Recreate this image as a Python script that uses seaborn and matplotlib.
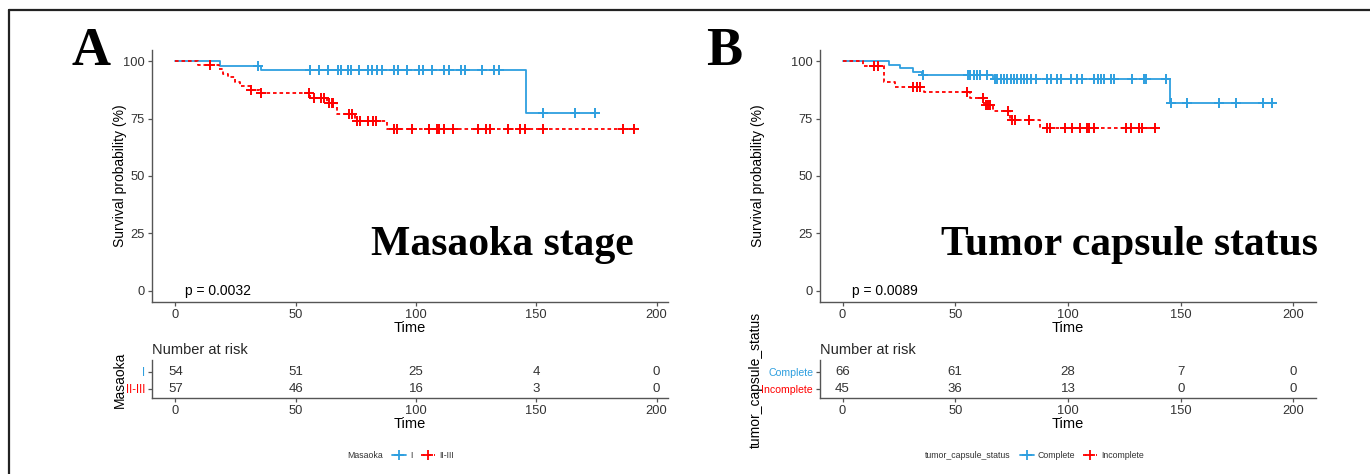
import numpy as np
import pandas as pd
import matplotlib
matplotlib.use("Agg")
import matplotlib.pyplot as plt
import seaborn as sns
from matplotlib.lines import Line2D

# ---- data ----
# Panel A: Masaoka stage
masaoka_I_time = [0, 18.6, 35.7, 145.7, 174.3]
masaoka_I_surv = [100, 98.1, 96.3, 77.3, 77.3]
masaoka_I_cens = [34.3, 55.8, 59.6, 63.6, 67.6, 68.75, 71.8, 72.8, 76.25, 79.9, 81.8,
                  83.75, 85.7, 90.8, 92.4, 96.1, 101.1, 103.1, 106.5, 111.7, 113.6,
                  118.6, 120.4, 127.6, 132.6, 134.6, 152.6, 166.25, 174.3]
masaoka_II_time = [0, 9.3, 18.0, 19.7, 21.8, 24.6, 27.0, 31.5, 35.0, 56.1, 62.8, 67.0,
                   74.6, 87.8, 190.5]
masaoka_II_surv = [100, 98.5, 96.5, 94.7, 93.0, 91.2, 89.5, 87.7, 86.1, 84.1, 81.9, 77.2,
                   74.1, 70.5, 70.5]
masaoka_II_cens = [14.4, 31.5, 35.4, 55.6, 57.5, 60.7, 61.8, 63.75, 64.9, 65.6, 72.2, 73.3,
                   75.6, 76.7, 79.9, 82.2, 83.3, 90.8, 92.0, 98.5, 105.3, 108.6, 109.6,
                   111.5, 115.3, 125.6, 128.9, 130.8, 138.3, 143.3, 145.4, 152.6, 186.1,
                   190.5]
masaoka_risk_I = [54, 51, 25, 4, 0]
masaoka_risk_II = [57, 46, 16, 3, 0]

# Panel B: tumor capsule status
complete_time = [0, 20.6, 25.5, 31.4, 35.2, 66.7, 145.3, 190.5]
complete_surv = [100, 98.5, 97.0, 95.5, 93.9, 92.4, 81.7, 81.7]
complete_cens = [35.9, 55.6, 56.6, 58.1, 59.6, 61.0, 64.0, 67.4, 68.7, 70.2, 71.7, 73.1,
                 74.7, 76.1, 77.6, 79.1, 80.6, 82.0, 83.5, 85.8, 90.9, 92.4, 95.3, 96.8,
                 101.3, 104.0, 106.2, 111.6, 113.1, 114.6, 116.1, 119.0, 120.5, 128.6,
                 133.5, 134.7, 143.5, 145.5, 152.8, 166.8, 174.7, 186.5, 190.5]
incomplete_time = [0, 9.2, 18.4, 23.3, 36.2, 56.6, 62.8, 66.7, 74.3, 87.7, 138.7]
incomplete_surv = [100, 97.8, 91.0, 88.7, 86.5, 84.1, 81.1, 78.2, 74.6, 70.9, 70.9]
incomplete_cens = [14.1, 15.9, 31.2, 32.9, 34.4, 55.4, 62.2, 63.6, 64.4, 65.5, 73.3, 75.1,
                   76.6, 82.5, 90.9, 92.1, 98.8, 101.7, 105.4, 108.4, 109.5, 111.6, 125.8,
                   127.9, 131.7, 132.8, 138.7]
capsule_risk_complete = [66, 61, 28, 7, 0]
capsule_risk_incomplete = [45, 36, 13, 0, 0]

risk_times = [0, 50, 100, 150, 200]
x_ticks = [0, 50, 100, 150, 200]
y_ticks = [0, 25, 50, 75, 100]

BLUE = "#2E9FDF"
RED = "#FF0000"
TXT = "#333333"
AX = "#555555"

sns.set_style("ticks")
plt.rcParams["font.family"] = ["Liberation Sans", "DejaVu Sans"]

W, H = 1370, 474
fig = plt.figure(figsize=(W / 100, H / 100), dpi=100)


def px_axes(left, top, right, bottom):
    return fig.add_axes([left / W, 1 - bottom / H, (right - left) / W, (bottom - top) / H])


def surv_at(times, surv, t):
    idx = np.searchsorted(times, t, side="right") - 1
    return np.asarray(surv)[idx]


def style_axis(ax):
    sns.despine(ax=ax)
    for s in ["left", "bottom"]:
        ax.spines[s].set_color(AX)
        ax.spines[s].set_linewidth(1.0)
    ax.tick_params(colors=AX, labelcolor=TXT, labelsize=9.3, length=3, width=0.9, pad=2)


def km_panel(ax, curves, xlim, pval, big_label, big_x):
    for times, surv, cens, color, ls in curves:
        df = pd.DataFrame({"t": times, "s": surv})
        sns.lineplot(data=df, x="t", y="s", ax=ax, color=color, drawstyle="steps-post",
                     linewidth=1.3, linestyle=ls, estimator=None, sort=False)
        cdf = pd.DataFrame({"t": cens, "s": surv_at(times, surv, cens)})
        sns.scatterplot(data=cdf, x="t", y="s", ax=ax, color=color, marker="+", s=60,
                        linewidth=1.4, zorder=3)
    ax.set_xlim(*xlim)
    ax.set_ylim(-5, 105)
    ax.set_xticks(x_ticks)
    ax.set_yticks(y_ticks)
    style_axis(ax)
    ax.set_xlabel("Time", fontsize=10.5, color="black", labelpad=0)
    ax.set_ylabel("Survival probability (%)", fontsize=10, color="black")
    ax.text(4, 0, pval, fontsize=10, color="black", va="center", ha="left")
    ax.text(big_x, 15.5, big_label, fontsize=30, fontweight="bold",
            family="Liberation Serif", ha="right", va="baseline", color="black",
            transform=ax.transData, clip_on=False)


def risk_panel(ax, xlim, names, counts, colors, title):
    ax.set_xlim(*xlim)
    ax.set_ylim(0.47, 2.69)
    for row, cnt in zip([2, 1], counts):
        for t, n in zip(risk_times, cnt):
            ax.text(t, row, str(n), ha="center", va="center", fontsize=9.5, color=TXT)
    ax.set_xticks(x_ticks)
    ax.set_yticks([2, 1])
    ax.set_yticklabels(names)
    style_axis(ax)
    ax.tick_params(axis="y", labelsize=8.3)
    for lab, c in zip(ax.get_yticklabels(), colors):
        lab.set_color(c)
    ax.set_xlabel("Time", fontsize=10.5, color="black", labelpad=0)
    ax.set_ylabel(title, fontsize=10, color="black")
    ax.set_title("Number at risk", loc="left", fontsize=10.5, pad=4, x=0.0)


# ---- Panel A ----
axA = px_axes(152, 50, 668, 302)
km_panel(axA,
         [(masaoka_I_time, masaoka_I_surv, masaoka_I_cens, BLUE, "-"),
          (masaoka_II_time, masaoka_II_surv, masaoka_II_cens, RED, (0, (2, 1.6)))],
         (-9.75, 204.75), "p = 0.0032", "Masaoka stage", 190.5)
axA.yaxis.set_label_coords((120 - 152) / 516, 0.5)
axA.yaxis.label.set_va("center")

rA = px_axes(152, 360, 668, 398)
risk_panel(rA, (-9.75, 204.75), ["I", "II-III"], [masaoka_risk_I, masaoka_risk_II],
           [BLUE, RED], "Masaoka")
rA.yaxis.set_label_coords((120 - 152) / 516, 0.47)
rA.yaxis.label.set_va("center")

# ---- Panel B ----
axB = px_axes(820, 50, 1316, 302)
km_panel(axB,
         [(complete_time, complete_surv, complete_cens, BLUE, "-"),
          (incomplete_time, incomplete_surv, incomplete_cens, RED, (0, (2, 1.6)))],
         (-10, 210), "p = 0.0089", "Tumor capsule status", 211)
axB.yaxis.set_label_coords((758 - 820) / 496, 0.5)
axB.yaxis.label.set_va("center")

rB = px_axes(820, 360, 1316, 398)
risk_panel(rB, (-10, 210), ["Complete", "Incomplete"],
           [capsule_risk_complete, capsule_risk_incomplete], [BLUE, RED],
           "tumor_capsule_status")
for lab in rB.get_yticklabels():
    lab.set_fontsize(7.6)
rB.yaxis.set_label_coords((756 - 820) / 496, 0.47)
rB.yaxis.label.set_va("center")

# ---- panel letters ----
for letter, cx in [("A", 90.5), ("B", 724.5)]:
    fig.text(cx / W, 1 - 65 / H, letter, ha="center", va="baseline", fontsize=39,
             fontweight="bold", family="Liberation Serif", color="black")


# ---- legends ----
def legend_row(title, title_right, labels, center_x):
    fig.text(title_right / W, 1 - 456 / H, title, fontsize=6.3, ha="right", va="center",
             color=TXT)
    handles = [Line2D([], [], color=BLUE, lw=1.3, marker="+", markersize=7, mew=1.3),
               Line2D([], [], color=RED, lw=1.3, ls=(0, (2, 1.6)), marker="+", markersize=7,
                      mew=1.3)]
    fig.legend(handles, labels, ncol=2, frameon=False, fontsize=6.3, loc="center",
               bbox_to_anchor=(center_x / W, 1 - 456 / H), handlelength=1.6,
               handletextpad=0.5, columnspacing=0.9, labelcolor=TXT)


legend_row("Masaoka", 383, ["I", "II-III"], 423)
legend_row("tumor_capsule_status", 1011, ["Complete", "Incomplete"], 1082)

# ---- outer frame (left and top edges visible) ----
fig.add_artist(Line2D([9 / W, 9 / W], [0, 1 - 10 / H], transform=fig.transFigure,
                      color="#222222", lw=1.6))
fig.add_artist(Line2D([9 / W, 1], [1 - 10 / H, 1 - 10 / H], transform=fig.transFigure,
                      color="#222222", lw=1.6))

fig.savefig("out.png", dpi=100)
